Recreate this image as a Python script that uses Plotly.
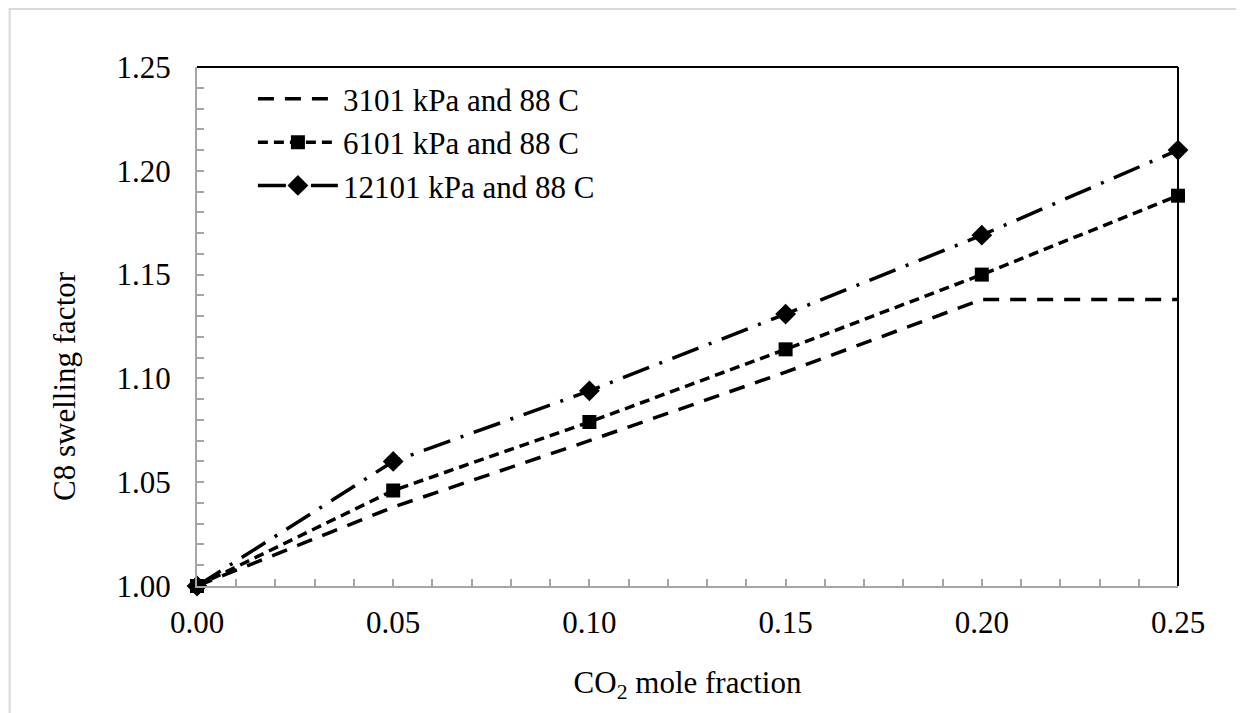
import plotly.graph_objects as go

co2_fraction = [0.00, 0.05, 0.10, 0.15, 0.20, 0.25]
swell_3101 = [1.000, 1.038, 1.070, 1.103, 1.138, 1.138]
swell_6101 = [1.000, 1.046, 1.079, 1.114, 1.150, 1.188]
swell_12101 = [1.000, 1.060, 1.094, 1.131, 1.169, 1.210]
series_names = ["3101 kPa and 88 C", "6101 kPa and 88 C", "12101 kPa and 88 C"]
y_title = "C8 swelling factor"
x_title = "CO<sub>2</sub> mole fraction"

FONT = "Liberation Serif, Times New Roman, serif"
AX = "#a6a6a6"

fig = go.Figure()
fig.add_trace(go.Scatter(x=co2_fraction, y=swell_3101, name=series_names[0], mode="lines", legendrank=1,
                         line=dict(color="black", width=3.5, dash="16px,11px"), cliponaxis=False))
fig.add_trace(go.Scatter(x=co2_fraction, y=swell_12101, name=series_names[2], mode="lines+markers", legendrank=3,
                         line=dict(color="black", width=3.5, dash="28px,11px,3px,11px"),
                         marker=dict(symbol="diamond", size=16, color="black"), cliponaxis=False))
fig.add_trace(go.Scatter(x=co2_fraction, y=swell_6101, name=series_names[1], mode="lines+markers", legendrank=2,
                         line=dict(color="black", width=3.5, dash="10px,6px"),
                         marker=dict(symbol="square", size=14, color="black"), cliponaxis=False))

fig.update_layout(
    width=1236, height=705,
    margin=dict(l=189, r=66, t=59, b=127),
    paper_bgcolor="white", plot_bgcolor="white",
    font=dict(family=FONT, size=31, color="black"),
    showlegend=True,
    legend=dict(x=0.057, y=0.99, xanchor="left", yanchor="top", bgcolor="rgba(0,0,0,0)",
                font=dict(family=FONT, size=31, color="black"), itemwidth=80),
    xaxis=dict(range=[0, 0.25], dtick=0.05, tick0=0, tickformat=".2f",
               showgrid=False, zeroline=False, showline=True, linecolor=AX, linewidth=2,
               ticks="inside", ticklen=7, tickcolor=AX, tickwidth=1.5,
               minor=dict(dtick=0.01, ticks="inside", ticklen=7, tickcolor=AX, tickwidth=1.5, showgrid=False),
               ticklabelstandoff=8,
               title=dict(text=x_title, font=dict(family=FONT, size=31), standoff=32)),
    yaxis=dict(range=[1.0, 1.25], dtick=0.05, tick0=1.0, tickformat=".2f",
               showgrid=False, zeroline=False, showline=True, linecolor=AX, linewidth=2,
               ticks="inside", ticklen=7, tickcolor=AX, tickwidth=1.5,
               minor=dict(dtick=0.01, ticks="inside", ticklen=7, tickcolor=AX, tickwidth=1.5, showgrid=False),
               ticklabelstandoff=18),
    annotations=[
        dict(text=y_title, xref="paper", yref="paper", x=-0.1346, y=0.3854,
             xanchor="center", yanchor="middle", textangle=-90, showarrow=False,
             font=dict(family=FONT, size=31, color="black")),
    ],
    shapes=[
        dict(type="line", xref="paper", yref="paper", x0=0, x1=1, y0=1, y1=1, line=dict(color="black", width=2)),
        dict(type="line", xref="paper", yref="paper", x0=1, x1=1, y0=0, y1=1, line=dict(color="black", width=2)),
        dict(type="rect", xref="paper", yref="paper", x0=-0.191, x1=1.0632, y0=-0.35, y1=1.1118,
             line=dict(color="#d9d9d9", width=2), layer="below"),
    ],
)

fig.write_html("out.html")
